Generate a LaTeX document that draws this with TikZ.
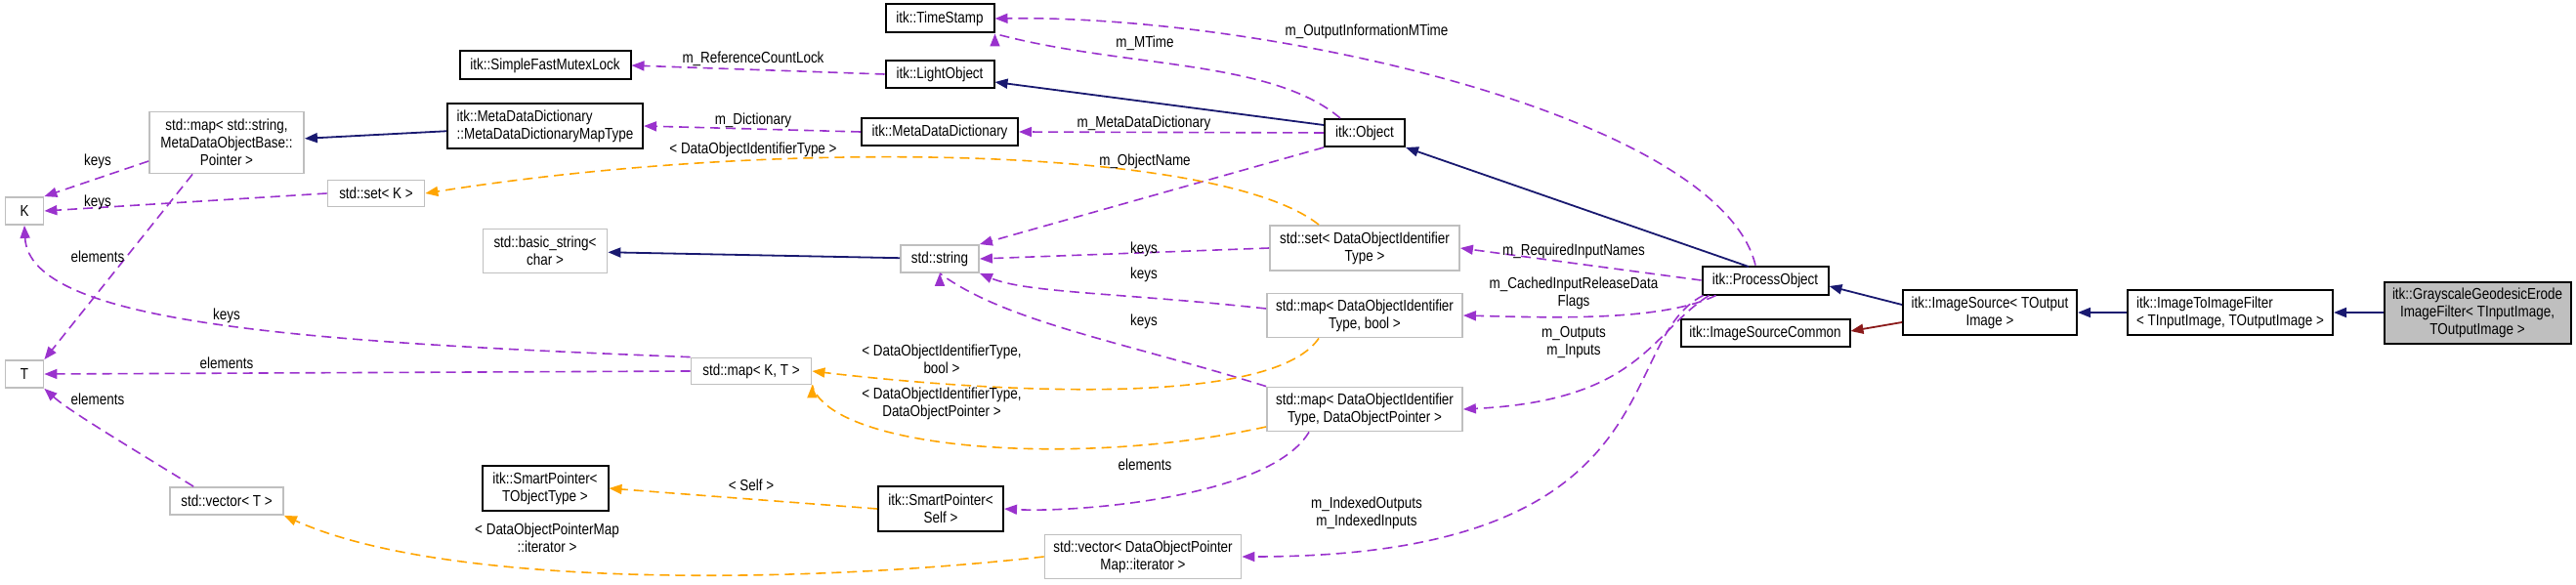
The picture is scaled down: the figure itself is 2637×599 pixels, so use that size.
\documentclass[tikz,border=0pt]{standalone}
\usepackage{fontspec}
\setmainfont{Liberation Sans}[FakeStretch=0.84]
\usetikzlibrary{arrows.meta}
\definecolor{mempurple}{HTML}{9A32CD}
\definecolor{tplorange}{HTML}{FFA500}
\definecolor{inhnavy}{HTML}{191970}
\definecolor{usered}{HTML}{8B1A1A}
\tikzset{
  cls/.style={draw=black,line width=2pt,fill=white,align=center,inner sep=2pt},
  ext/.style={draw=black!25,line width=1.8pt,fill=white,align=center,inner sep=2pt},
  lbl/.style={align=center,inner sep=0pt},
  tip/.style={-{Triangle[length=13pt,width=10pt]}},
  mem/.style={tip,mempurple,line width=1.6pt,dash pattern=on 10pt off 6pt},
  tpl/.style={tip,tplorange,line width=1.6pt,dash pattern=on 10pt off 6pt},
  inh/.style={tip,inhnavy,line width=1.8pt},
  use/.style={tip,usered,line width=1.8pt}
}
\begin{document}
\begin{tikzpicture}[x=1pt,y=-1pt,font=\fontsize{16}{18}\selectfont]
\useasboundingbox (0,0) rectangle (2637,599);
% classes
\node[cls,minimum width=111,minimum height=29] (ts) at (962,19) {itk::TimeStamp};
\node[cls,minimum width=111,minimum height=28] (lo) at (962,76) {itk::LightObject};
\node[cls,minimum width=160,minimum height=28] (mdd) at (962,135) {itk::MetaDataDictionary};
\node[cls,minimum width=82,minimum height=28] (obj) at (1397,136) {itk::Object};
\node[cls,minimum width=175,minimum height=29] (mutex) at (558,67) {itk::SimpleFastMutexLock};
\node[cls,minimum width=200,minimum height=46,align=left] (mdmap) at (558,129) {itk::MetaDataDictionary\\::MetaDataDictionaryMapType};
\node[ext,minimum width=158,minimum height=63] (strmap) at (232,146) {std::map\textless{} std::string,\\MetaDataObjectBase::\\Pointer \textgreater};
\node[ext,minimum width=99,minimum height=27] (setk) at (385,198) {std::set\textless{} K \textgreater};
\node[ext,minimum width=39,minimum height=28] (K) at (25,216) {K};
\node[ext,minimum width=127,minimum height=45] (bstr) at (558,257) {std::basic\_string\textless\\char \textgreater};
\node[ext,minimum width=80,minimum height=28] (str) at (962,265) {std::string};
\node[ext,minimum width=194,minimum height=46] (setid) at (1397,254) {std::set\textless{} DataObjectIdentifier\\Type \textgreater};
\node[ext,minimum width=200,minimum height=45] (mapbool) at (1397,323) {std::map\textless{} DataObjectIdentifier\\Type, bool \textgreater};
\node[ext,minimum width=200,minimum height=45] (mapdop) at (1397,419) {std::map\textless{} DataObjectIdentifier\\Type, DataObjectPointer \textgreater};
\node[ext,minimum width=39,minimum height=28] (T) at (25,383) {T};
\node[ext,minimum width=123,minimum height=27] (mapkt) at (769,380) {std::map\textless{} K, T \textgreater};
\node[cls,minimum width=129,minimum height=46] (sptr) at (558,500) {itk::SmartPointer\textless\\TObjectType \textgreater};
\node[cls,minimum width=128,minimum height=46] (sps) at (963,521) {itk::SmartPointer\textless\\Self \textgreater};
\node[ext,minimum width=116,minimum height=28] (vect) at (232,513) {std::vector\textless{} T \textgreater};
\node[ext,minimum width=201,minimum height=45] (vecdop) at (1170,570) {std::vector\textless{} DataObjectPointer\\Map::iterator \textgreater};
\node[cls,minimum width=129,minimum height=29] (po) at (1807,287) {itk::ProcessObject};
\node[cls,minimum width=173,minimum height=28] (isc) at (1807,341) {itk::ImageSourceCommon};
\node[cls,minimum width=178,minimum height=46] (is) at (2037,320) {itk::ImageSource\textless{} TOutput\\Image \textgreater};
\node[cls,minimum width=210,minimum height=46,align=left] (itf) at (2283,320) {itk::ImageToImageFilter\\\textless{} TInputImage, TOutputImage \textgreater};
\node[cls,fill=black!25,minimum width=191,minimum height=63] (gge) at (2536,320) {itk::GrayscaleGeodesicErode\\ImageFilter\textless{} TInputImage,\\TOutputImage \textgreater};
% inheritance
\draw[inh] (gge) -- (itf);
\draw[inh] (itf) -- (is);
\draw[inh] (is.west |- 0,312) -- (po.east |- 0,293);
\draw[use] (is.west |- 0,330) -- (isc.east |- 0,339);
\draw[inh] (po.north |- 0,273) ++(-17,0) -- (obj.south east);
\draw[inh] (obj.west |- 0,128) -- (lo.east |- 0,84);
\draw[inh] (mdmap) -- (strmap);
\draw[inh] (str) -- (bstr);
% members
\draw[mem] (lo.west) -- (mutex.east);
\draw[mem] (mdd.west) -- (mdmap.east);
\draw[mem] (obj.west) -- (mdd.east);
\draw[mem] (obj.north) ++(-25,0) .. controls (1300,60) and (1150,70) .. (ts.south east) ++(0,0);
\draw[mem] (po.north) ++(-10,0) .. controls (1760,120) and (1300,15) .. (ts.east);
\draw[mem] (obj.south west) -- (str.north east);
\draw[mem] (setid.west) -- (str.east);
\draw[mem] (mapbool.west |- 0,316) .. controls (1150,300) and (1050,300) .. (str.south east);
\draw[mem] (mapdop.north west) .. controls (1150,350) and (1030,330) .. (str.south) ++(0,0);
\draw[mem] (po.west) -- (setid.east);
\draw[mem] (po.south west) ++(15,0) .. controls (1700,330) and (1580,325) .. (mapbool.east);
\draw[mem] (po.south west) ++(8,0) .. controls (1690,340) and (1680,410) .. (mapdop.east);
\draw[mem] (po.south west) ++(2,0) .. controls (1650,350) and (1720,570) .. (vecdop.east);
\draw[mem] (strmap.west |- 0,165) -- (K.north east);
\draw[mem] (setk.west) -- (K.east);
\draw[mem] (strmap.south west) ++(45,0) -- (T.north east);
\draw[mem] (mapkt.north west) .. controls (300,350) and (30,330) .. (K.south);
\draw[mem] (mapkt.west) -- (T.east);
\draw[mem] (vect.north west) ++(25,0) .. controls (120,450) and (70,420) .. (T.south east);
\draw[mem] (mapdop.south) ++(-57,0) .. controls (1300,510) and (1100,525) .. (sps.east);
% template instances
\draw[tpl] (setid.north) ++(-47,0) .. controls (1250,150) and (800,140) .. (setk.east);
\draw[tpl] (mapbool.south) ++(-47,0) .. controls (1300,420) and (1000,400) .. (mapkt.east);
\draw[tpl] (mapdop.west |- 0,437) .. controls (1100,480) and (850,460) .. (mapkt.south east) ++(0,0);
\draw[tpl] (sps.west) -- (sptr.east);
\draw[tpl] (vecdop.west) .. controls (800,600) and (450,600) .. (vect.south east);
% labels
\node[lbl] (l1) at (771,60) {m\_ReferenceCountLock};
\node[lbl] (l2) at (771,123) {m\_Dictionary};
\node[lbl] (l3) at (771,153) {\textless{} DataObjectIdentifierType \textgreater};
\node[lbl] (l4) at (100,165) {keys};
\node[lbl] (l5) at (100,207) {keys};
\node[lbl] (l6) at (100,263) {elements};
\node[lbl] (l7) at (232,323) {keys};
\node[lbl] (l8) at (232,372) {elements};
\node[lbl] (l9) at (100,409) {elements};
\node[lbl] (l10) at (769,497) {\textless{} Self \textgreater};
\node[lbl] (l11) at (560,551) {\textless{} DataObjectPointerMap\\::iterator \textgreater};
\node[lbl] (l12) at (1399,32) {m\_OutputInformationMTime};
\node[lbl] (l13) at (1172,44) {m\_MTime};
\node[lbl] (l14) at (1171,126) {m\_MetaDataDictionary};
\node[lbl] (l15) at (1172,165) {m\_ObjectName};
\node[lbl] (l16) at (1171,255) {keys};
\node[lbl] (l17) at (1171,281) {keys};
\node[lbl] (l18) at (1171,329) {keys};
\node[lbl] (l19) at (1611,257) {m\_RequiredInputNames};
\node[lbl] (l20) at (1611,300) {m\_CachedInputReleaseData\\Flags};
\node[lbl] (l21) at (1611,351) {m\_Outputs\\m\_Inputs};
\node[lbl] (l22) at (964,368) {\textless{} DataObjectIdentifierType,\\bool \textgreater};
\node[lbl] (l23) at (964,413) {\textless{} DataObjectIdentifierType,\\DataObjectPointer \textgreater};
\node[lbl] (l24) at (1172,476) {elements};
\node[lbl] (l25) at (1399,525) {m\_IndexedOutputs\\m\_IndexedInputs};
\end{tikzpicture}
\end{document}
